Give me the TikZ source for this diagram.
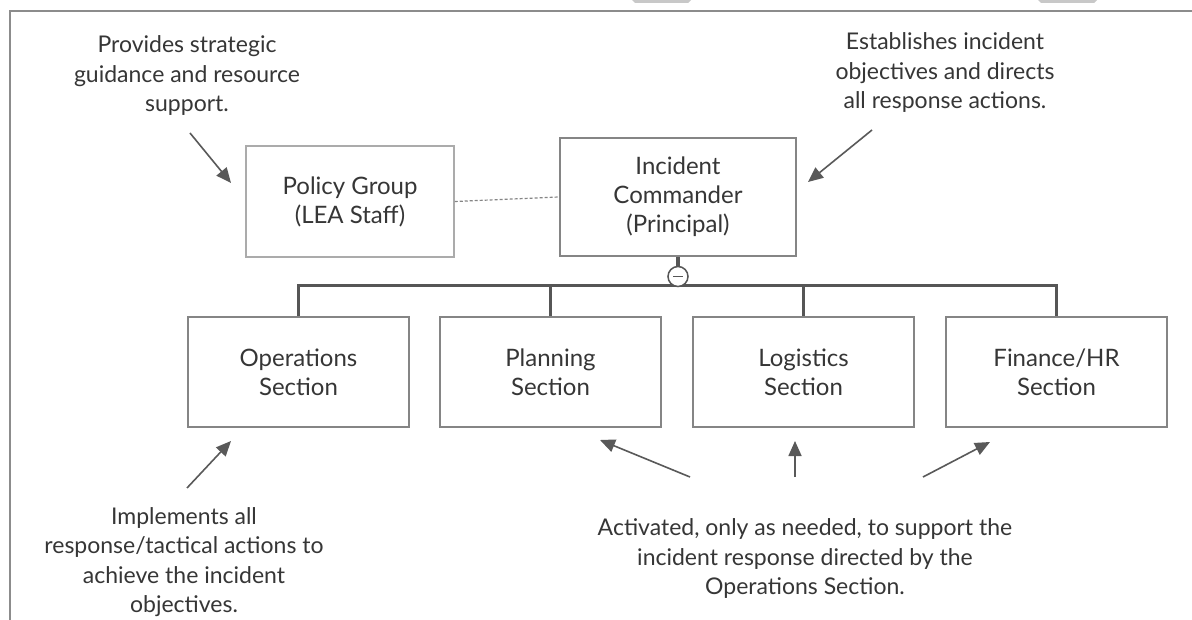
\documentclass[tikz,border=0pt]{standalone}
\usepackage{fontspec}
\setmainfont{Lato}
\usetikzlibrary{arrows.meta}
\definecolor{txt}{HTML}{363636}
\definecolor{boxgray}{HTML}{858585}
\definecolor{lightbox}{HTML}{ABABAB}
\definecolor{bargray}{HTML}{565656}
\definecolor{arrowgray}{HTML}{595959}
\definecolor{framegray}{HTML}{8C8C8C}
\definecolor{markgray}{HTML}{C8C8C8}
\begin{document}
\begin{tikzpicture}[x=1pt,y=-1pt,
  txtfont/.style={font=\fontsize{23}{29.5}\selectfont, text=txt},
  boxfont/.style={font=\fontsize{24}{29}\selectfont, text=txt},
  secbox/.style={draw=boxgray, line width=2.6pt, minimum width=221pt, minimum height=110pt, align=center, boxfont, inner sep=0pt},
  icbox/.style={draw=boxgray, line width=2.6pt, minimum width=236pt, minimum height=118pt, align=center, boxfont, inner sep=0pt},
  polbox/.style={draw=lightbox, line width=1.5pt, minimum width=208pt, minimum height=111pt, align=center, boxfont, inner sep=0pt},
  annot/.style={align=center, txtfont, inner sep=0pt},
  annarrow/.style={draw=arrowgray, line width=1.6pt, -{Triangle[length=15pt,width=13pt]}},
  barline/.style={draw=bargray, line width=3.6pt},
  frameline/.style={draw=framegray, line width=2.6pt},
]
\useasboundingbox (0,0) rectangle (1192,620);
\fill[white] (0,0) rectangle (1192,620);

% page artefacts and frame
\fill[markgray] (632,0) -- (691,0) -- (688,3) -- (635,3) -- cycle;
\fill[markgray] (1038,0) -- (1097,0) -- (1094,3) -- (1041,3) -- cycle;
\draw[frameline] (10,620) -- (10,11) -- (1192,11);

% boxes
\node[polbox] (policy) at (350,201.5) {Policy Group\\(LEA Staff)};
\node[icbox] (ic) at (678,197) {Incident\\Commander\\(Principal)};
\node[secbox] (ops) at (298.5,372) {Operations\\Section};
\node[secbox] (plan) at (550.5,372) {Planning\\Section};
\node[secbox] (log) at (803.5,372) {Logistics\\Section};
\node[secbox] (fin) at (1056.5,372) {Finance/HR\\Section};

% dashed link
\draw[draw=boxgray, line width=1.2pt, dash pattern=on 3pt off 2pt] (policy.east) -- (ic.west);

% tree
\coordinate (barl) at (298.5,285.5);
\draw[barline] (ops.north) -- (ops.north |- barl) -- (fin.north |- barl) -- (fin.north);
\draw[barline] (plan.north) -- (plan.north |- barl);
\draw[barline] (log.north) -- (log.north |- barl);
\node[circle, draw=bargray, line width=1.5pt, fill=white, minimum size=20pt, inner sep=0pt] (minus) at (678,276.5) {};
\draw[draw=bargray, line width=3.2pt] (ic.south) -- (minus.north);
\draw[draw=bargray, line width=1.5pt] ([xshift=-5pt]minus.center) -- ([xshift=5pt]minus.center);

% annotations
\node[annot] (tl) at (187,76) {Provides strategic\\guidance and resource\\support.};
\node[annot] (tr) at (945,73) {Establishes incident\\objectives and directs\\all response actions.};
\node[annot] (bl) at (184,562) {Implements all\\response/tactical actions to\\achieve the incident\\objectives.};
\node[annot] (br) at (805,559) {Activated, only as needed, to support the\\incident response directed by the\\Operations Section.};

% arrows
\coordinate (a1s) at (190,133); \coordinate (a1e) at (231,183);
\coordinate (a2s) at (872,130); \coordinate (a2e) at (808,182);
\coordinate (a3s) at (187,488); \coordinate (a3e) at (231,441);
\coordinate (a4s) at (690,477); \coordinate (a4e) at (600,440);
\coordinate (a5s) at (795,477); \coordinate (a5e) at (795,441);
\coordinate (a6s) at (923,477); \coordinate (a6e) at (990,442);
\draw[annarrow] (a1s) -- (a1e);
\draw[annarrow] (a2s) -- (a2e);
\draw[annarrow] (a3s) -- (a3e);
\draw[annarrow] (a4s) -- (a4e);
\draw[annarrow] (a5s) -- (a5e);
\draw[annarrow] (a6s) -- (a6e);
\end{tikzpicture}
\end{document}
